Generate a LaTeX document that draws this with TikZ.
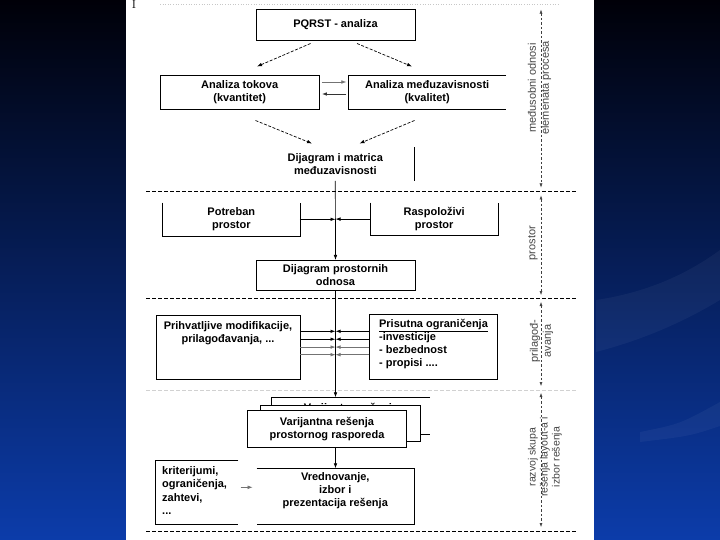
\documentclass[tikz,border=0pt]{standalone}
\usepackage{fontspec}
\newfontfamily\arialf{Liberation Sans}
\usetikzlibrary{arrows.meta,calc}
\definecolor{bgtop}{RGB}{0,0,8}
\definecolor{bgmid}{RGB}{6,30,112}
\definecolor{bgbot}{RGB}{12,60,170}
\definecolor{labgray}{RGB}{70,70,70}
\begin{document}
\begin{tikzpicture}[x=1pt,y=-1pt,
  sz/.style 2 args={minimum width=#1pt,minimum height=#2pt,inner sep=0pt,outer sep=0pt},
  txt/.style={font=\arialf\bfseries\fontsize{11}{13}\selectfont,align=center,text=black},
  frame/.style={draw=black,line width=0.8pt},
  edge/.style={draw=black,line width=0.8pt},
  arr/.style={-{Latex[length=5pt,width=3.6pt]},line width=0.7pt},
  dsh/.style={dash pattern=on 3pt off 1.6pt,line width=0.7pt},
  sep/.style={draw=black,line width=0.7pt,dash pattern=on 4pt off 2pt},
  dim/.style={draw=black!75,line width=0.5pt,dash pattern=on 2.5pt off 2pt,
    {Latex[length=4pt,width=3pt]}-{Latex[length=4pt,width=3pt]}},
  side/.style={font=\arialf\fontsize{11}{13}\selectfont,text=labgray,rotate=90,align=center,inner sep=0pt}
]
\useasboundingbox (0,0) rectangle (720,540);
% background
\shade[top color=bgtop,middle color=bgmid,bottom color=bgbot] (0,0) rectangle (720,540);
\fill[white,opacity=0.045] (596,300) .. controls (650,292) and (690,272) .. (720,250) -- (720,300) .. controls (690,318) and (650,338) .. (596,352) -- cycle;
\fill[white,opacity=0.045] (640,432) .. controls (680,424) .. (720,402) -- (720,426) .. controls (690,436) .. (640,442) -- cycle;
% page
\fill[white] (125.5,0) rectangle (594,540);
\node[font=\rmfamily\fontsize{12}{12}\selectfont,anchor=south,inner sep=0pt] (topI) at (134,8.5) {I};
\draw[black!22,dotted,line width=0.6pt] (160,4) -- (560,4);

% --- section 1
\node[frame,sz={159}{31},txt] (pq) at (335.5,24.8) {PQRST - analiza};
\node[frame,sz={159.3}{34},txt] (tok) at (239.7,92.3) {Analiza tokova\\(kvantitet)};
\node[sz={157.7}{34},txt] (kval) at (427.2,92.3) {Analiza međuzavisnosti\\(kvalitet)};
\draw[edge] (kval.north east) -- (kval.north west) -- (kval.south west) -- (kval.south east);
\node[sz={158.6}{33.4},txt] (dij) at (335.3,164.1) {Dijagram i matrica\\međuzavisnosti};
\draw[edge] (dij.north east) -- (dij.south east);

\coordinate (u1) at (310.5,43.5); \coordinate (u2) at (257,66.5);
\coordinate (u3) at (357,43.5);   \coordinate (u4) at (412,66.5);
\coordinate (w1) at (255.5,120.5); \coordinate (w2) at (312,143.5);
\coordinate (w3) at (414.5,120.5); \coordinate (w4) at (359.5,143.5);
\draw[dsh,arr] (u1) -- (u2);
\draw[dsh,arr] (u3) -- (u4);
\draw[dsh,arr] (w1) -- (w2);
\draw[dsh,arr] (w3) -- (w4);

\coordinate (h1) at ([xshift=2.5pt,yshift=10.3pt]tok.east);
\coordinate (h2) at ([xshift=2.5pt,yshift=-1.7pt]tok.east);
\draw[arr,black!55,line width=0.6pt,shorten >=2pt] (h1) -- (h1 -| kval.west);
\draw[arr,black!80,line width=0.9pt,shorten <=2pt] (h2 -| kval.west) -- (h2);

% separators
\draw[sep] (146,191.5) -- (577.5,191.5);
\draw[sep] (146,298.5) -- (577.5,298.5);
\draw[black!18,dash pattern=on 4pt off 2pt,line width=0.6pt] (146,390.7) -- (577.5,390.7);
\draw[sep] (146,531) -- (577.5,531);

% --- section 2
\node[sz={137.3}{33.3},txt] (pot) at (231.3,219.3) {Potreban\\prostor};
\draw[edge] (pot.north west) -- (pot.south west) -- (pot.south east) -- (pot.north east);
\node[sz={128.3}{32.8},txt] (ras) at (434.2,219.1) {Raspoloživi\\prostor};
\draw[edge] (ras.north west) -- (ras.south west) -- (ras.south east) -- (ras.north east);
\node[frame,sz={159}{30.7},txt] (dpo) at (335.5,275.3) {Dijagram prostornih\\odnosa};

\draw[edge,arr] (dij.south) -- (dpo.north);
\draw[edge,arr] (pot.east) -- (pot.east -| dpo.north);
\draw[edge,arr] (ras.west) -- (ras.west -| dpo.north);

% --- section 3
\node[frame,sz={144}{63.3}] (pri) at (228,347.3) {};
\node[txt] (pritxt) at (228,333) {Prihvatljive modifikacije,\\prilagođavanja, ...};
\node[frame,sz={128.4}{65}] (pru) at (433.5,346.5) {};
\node[txt] (prutit) at (433.5,325.5) {\underline{Prisutna ograničenja}};
\node[txt,align=left,anchor=west] (prulist) at (375.6,351) {-investicije\\- bezbednost\\- propisi ....};

\coordinate (m1) at (335.5,331.3);
\coordinate (m2) at (335.5,339.2);
\coordinate (m3) at (335.5,347.1);
\coordinate (m4) at (335.5,354.7);
\foreach \m/\c/\w in {m1/black/0.9pt,m2/black/0.9pt,m3/black!55/0.6pt,m4/black!55/0.6pt}{
  \draw[arr,draw=\c,fill=\c,line width=\w] (pri.east |- \m) -- (\m);
  \draw[arr,draw=\c,fill=\c,line width=\w] (pru.west |- \m) -- (\m);
}

% --- section 4
\node[fill=white,sz={158.3}{36.7}] (back) at (350.9,415.7) {};
\node[txt] (backtxt) at (350.9,414.8) {Varijantna rešenja\\prostornog rasporeda};
\draw[edge] (back.north east) -- (back.north west) -- (back.south west) -- (back.south east);
\node[frame,fill=white,sz={160}{36}] (mid) at (340,423.7) {};
\node[frame,fill=white,sz={159.4}{37.3},txt] (fr) at (327,428.7) {Varijantna rešenja\\prostornog rasporeda};

\draw[edge,arr] (dpo.south) -- (dpo.south |- back.north);

\node[sz={157.3}{55.7}] (vred) at (335.3,496.2) {};
\draw[edge] (vred.north west) -- (vred.north east) -- (vred.south east) -- (vred.south west);
\node[txt] (vredtxt) at (335.3,491) {Vrednovanje,\\izbor i\\prezentacija rešenja};
\draw[edge,arr] (dpo.south |- fr.south) -- (dpo.south |- vred.north);

\node[sz={82.6}{64}] (krit) at (197,492) {};
\draw[edge] (krit.north east) -- (krit.north west) -- (krit.south west) -- (krit.south east);
\node[font=\arialf\bfseries\fontsize{11}{13.5}\selectfont,align=left,anchor=west,inner sep=0pt] (krittxt) at (162,490.5) {kriterijumi,\\ograničenja,\\zahtevi,\\...};
\coordinate (k1) at ([xshift=2.4pt,yshift=4.7pt]krit.east);
\draw[arr,black!55,line width=0.6pt,shorten >=4pt] (k1) -- (k1 -| vred.west);

% --- dimension lines and side labels
\coordinate (d1a) at (541,9.6);  \coordinate (d1b) at (541,187.5);
\coordinate (d2a) at (541,195.5); \coordinate (d2b) at (541,295);
\coordinate (d3a) at (541,302);  \coordinate (d3b) at (541,386);
\coordinate (d4a) at (541,393);  \coordinate (d4b) at (541,527);
\draw[dim] (d1a) -- (d1b);
\draw[dim] (d2a) -- (d2b);
\draw[dim] (d3a) -- (d3b);
\draw[dim] (d4a) -- (d4b);
\node[side] (s1) at (539.5,88) {međusobni odnosi\\elemenata procesa};
\node[side] (s2) at (533,243) {prostor};
\node[side] (s3) at (541.5,341) {prilagođ-\\avanja};
\node[side,font=\arialf\fontsize{10.5}{12}\selectfont] (s4) at (545,457) {razvoj skupa\\rešenja layout-a i\\izbor rešenja};
\end{tikzpicture}
\end{document}
